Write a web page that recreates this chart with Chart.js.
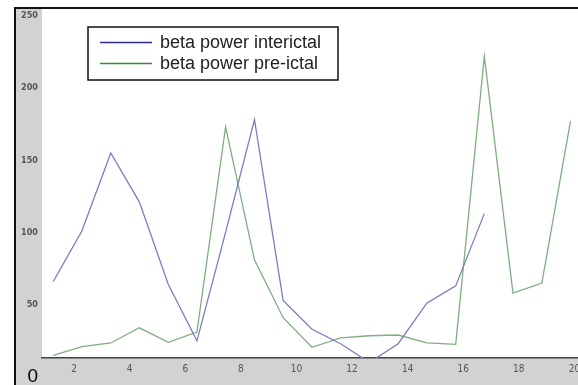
<!DOCTYPE html>
<html lang="en">
<head>
    <meta charset="UTF-8">
    <title>beta power</title>
    <script src="https://cdn.jsdelivr.net/npm/chart.js"></script>
    <style>
        html, body { margin: 0; padding: 0; background: #fff; }
        #wrap { width: 578px; height: 385px; position: relative; }
    </style>
</head>
<body>
    <div id="wrap"><canvas id="betaChart" width="578" height="385"></canvas></div>

    <script>
        // valores
        const xValues = [1.25, 2.28, 3.32, 4.35, 5.39, 6.42, 7.45, 8.49, 9.52, 10.56,
                         11.59, 12.62, 13.66, 14.69, 15.73, 16.76, 17.79, 18.83, 19.86];
        const interictal = [66, 101, 155, 121, 64, 25, 100, 178, 53, 33,
                            23, 10, 23, 51, 63, 113];
        const preictal = [15, 21, 23.5, 34, 24, 31, 173, 81, 41, 20.5,
                          27, 28.5, 29, 23.5, 22.5, 222, 58, 65, 177];
        const xTicks = [2, 4, 6, 8, 10, 12, 14, 16, 18, 20];
        const yTicks = [0, 50, 100, 150, 200, 250];
        const seriesLabels = ['beta power interictal', 'beta power pre-ictal'];

        function toPoints(values) {
            return values.map((v, i) => ({ x: xValues[i], y: v }));
        }

        // fondo gris, bordes negros y area blanca
        const framePlugin = {
            id: 'frame',
            beforeDraw(chart) {
                const ctx = chart.ctx;
                const a = chart.chartArea;
                ctx.save();
                ctx.fillStyle = '#fff';
                ctx.fillRect(0, 0, chart.width, chart.height);
                ctx.fillStyle = '#d2d2d2';
                ctx.fillRect(16, 9, chart.width - 16, chart.height - 9);
                ctx.fillStyle = '#fff';
                ctx.fillRect(a.left, a.top, a.right - a.left, a.bottom - a.top);
                ctx.fillStyle = '#111';
                ctx.fillRect(14, 7, chart.width - 14, 2);
                ctx.fillRect(14, 7, 2, chart.height - 7);
                ctx.restore();
            }
        };

        // leyenda con recuadro dentro del area
        const boxLegend = {
            id: 'boxLegend',
            afterDraw(chart) {
                const ctx = chart.ctx;
                const colors = ['#2b2b8c', '#3a8c3a'];
                ctx.save();
                ctx.fillStyle = '#fff';
                ctx.fillRect(88, 27, 250, 53);
                ctx.strokeStyle = '#111';
                ctx.lineWidth = 1.5;
                ctx.strokeRect(88, 27, 250, 53);
                ctx.font = '18px "Liberation Sans", Arial, sans-serif';
                ctx.textBaseline = 'middle';
                seriesLabels.forEach((label, i) => {
                    const y = 42.5 + i * 21;
                    ctx.strokeStyle = colors[i];
                    ctx.lineWidth = 1.3;
                    ctx.beginPath();
                    ctx.moveTo(100, y);
                    ctx.lineTo(152, y);
                    ctx.stroke();
                    ctx.fillStyle = '#222';
                    ctx.fillText(label, 160, y + 1);
                });
                ctx.restore();
            }
        };

        new Chart(document.getElementById('betaChart'), {
            type: 'line',
            data: {
                datasets: [
                    {
                        label: seriesLabels[0],
                        data: toPoints(interictal),
                        borderColor: '#7c7cba',
                        borderWidth: 1.3,
                        pointRadius: 0,
                        tension: 0,
                        fill: false
                    },
                    {
                        label: seriesLabels[1],
                        data: toPoints(preictal),
                        borderColor: '#80ae80',
                        borderWidth: 1.3,
                        pointRadius: 0,
                        tension: 0,
                        fill: false
                    }
                ]
            },
            options: {
                responsive: false,
                animation: false,
                layout: { padding: { left: 16, top: 9, right: 0, bottom: 0 } },
                plugins: {
                    legend: { display: false },
                    tooltip: { enabled: false }
                },
                scales: {
                    x: {
                        type: 'linear',
                        min: 0.845,
                        max: 20.13,
                        afterBuildTicks: s => { s.ticks = xTicks.map(v => ({ value: v })); },
                        afterFit: s => { s.height = 27; s.paddingLeft = 0; s.paddingRight = 0; },
                        grid: { display: false, drawTicks: false },
                        border: { display: true, color: '#444', width: 1.5 },
                        ticks: {
                            padding: 5,
                            maxRotation: 0,
                            autoSkip: false,
                            color: '#555',
                            font: { family: '"DejaVu Sans Condensed", "DejaVu Sans", sans-serif', size: 10 }
                        }
                    },
                    y: {
                        min: 13.1,
                        max: 254.6,
                        afterBuildTicks: s => { s.ticks = yTicks.map(v => ({ value: v })); },
                        afterFit: s => { s.width = 26; s.paddingTop = 0; s.paddingBottom = 0; },
                        grid: { display: false, drawTicks: false },
                        border: { display: false },
                        ticks: {
                            padding: 4,
                            autoSkip: false,
                            color: c => c.tick && c.tick.value === 0 ? '#000' : '#555',
                            font: c => c.tick && c.tick.value === 0
                                ? { family: '"Liberation Sans", Arial, sans-serif', size: 19 }
                                : { family: '"DejaVu Sans Condensed", "DejaVu Sans", sans-serif', size: 9, weight: 'bold' }
                        }
                    }
                }
            },
            plugins: [framePlugin, boxLegend]
        });
    </script>
</body>
</html>
